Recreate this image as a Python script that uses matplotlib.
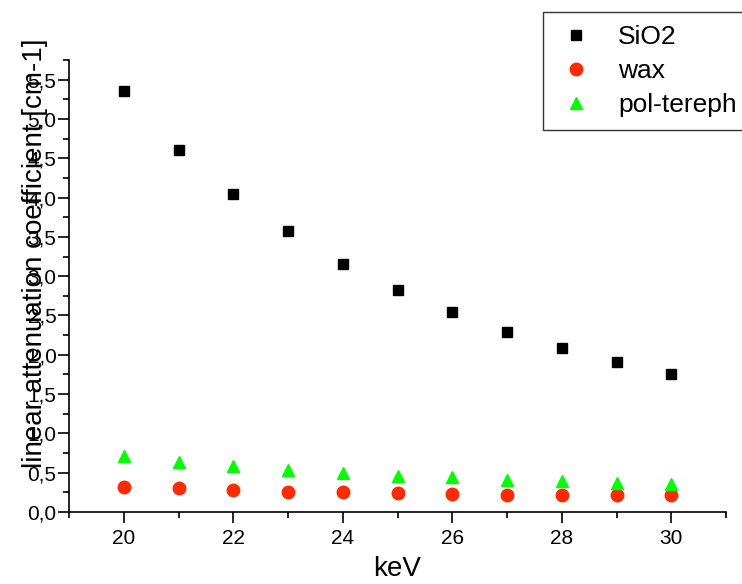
import matplotlib.pyplot as plt
from matplotlib.ticker import MultipleLocator

plt.rcParams['font.family'] = ['Liberation Sans', 'DejaVu Sans']

# energies (keV)
kev = [20, 21, 22, 23, 24, 25, 26, 27, 28, 29, 30]

# linear attenuation coefficients [cm-1]
sio2 = [5.35, 4.61, 4.04, 3.57, 3.16, 2.83, 2.54, 2.29, 2.09, 1.91, 1.75]
wax = [0.32, 0.30, 0.28, 0.26, 0.25, 0.24, 0.23, 0.22, 0.22, 0.21, 0.21]
polt = [0.71, 0.64, 0.58, 0.53, 0.50, 0.46, 0.44, 0.41, 0.39, 0.37, 0.36]

fig = plt.figure(figsize=(7.42, 5.84), dpi=100)
ax = fig.add_axes([69 / 742, 1 - 512 / 584, (726 - 69) / 742, (512 - 60) / 584])

ax.plot(kev, sio2, 's', color='black', ms=7, label='SiO2')
ax.plot(kev, wax, 'o', color='#ff2a00', ms=9, label='wax')
ax.plot(kev, polt, '^', color='#00ff00', ms=9, label='pol-tereph')

ax.set_xlim(19, 31)
ax.set_ylim(0, 5.75)

ax.spines['top'].set_visible(False)
ax.spines['right'].set_visible(False)
for s in ['left', 'bottom']:
    ax.spines[s].set_linewidth(1.2)

ax.xaxis.set_major_locator(MultipleLocator(2))
ax.xaxis.set_minor_locator(MultipleLocator(1))
ax.yaxis.set_major_locator(MultipleLocator(0.5))
ax.yaxis.set_minor_locator(MultipleLocator(0.25))
ax.yaxis.set_major_formatter(lambda v, p: ('%.1f' % v).replace('.', ','))

ax.tick_params(which='major', direction='out', length=8, width=1.2, labelsize=15)
ax.tick_params(which='minor', direction='out', length=4.5, width=1.2)
ax.tick_params(axis='y', which='major', pad=1)
ax.tick_params(axis='x', which='major', pad=4)

ax.set_xlabel('keV', fontsize=20, labelpad=6)
fig.text(35 / 742, 1 - 253 / 584, 'linear attenuation coefficient [cm-1]',
         rotation=90, fontsize=20, ha='center', va='center')

leg = ax.legend(loc='upper left', bbox_to_anchor=(543 / 742, 1 - 12 / 584),
                bbox_transform=fig.transFigure, borderaxespad=0, fontsize=19,
                frameon=True, fancybox=False, edgecolor='black',
                handletextpad=0.85, borderpad=0.5, labelspacing=0.38,
                handlelength=1.5)
leg.get_frame().set_linewidth(1.0)

fig.savefig('out.png', dpi=100)
